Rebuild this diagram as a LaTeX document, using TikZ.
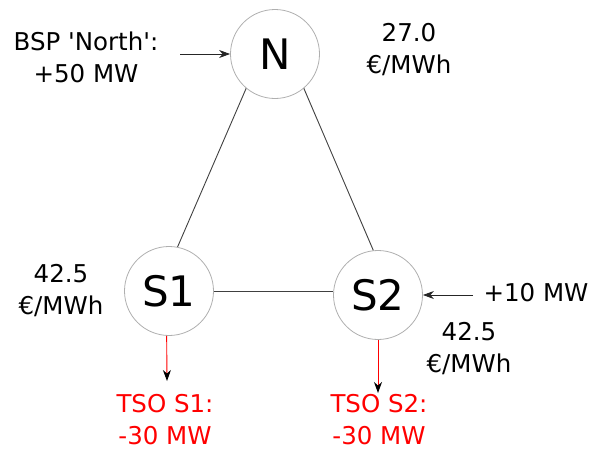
\documentclass[tikz,border=0pt]{standalone}
\usepackage{fontspec}
\setmainfont{DejaVu Sans}
\usepackage{xcolor}
\usetikzlibrary{arrows.meta, positioning, calc}
\definecolor{tsoRed}{RGB}{255, 0, 0}
\definecolor{busGray}{RGB}{175, 175, 175}

\begin{document}
\begin{tikzpicture}[x=1pt, y=-1pt,
    bus/.style={circle, draw=busGray, line width=0.8pt, minimum size=89pt, inner sep=0pt, font=\fontsize{42}{48}\selectfont},
    lbl/.style={align=center, inner sep=0pt, font=\fontsize{24.5}{32}\selectfont},
    grid line/.style={black!75, line width=0.9pt},
    inflow/.style={-{Stealth[length=11pt, width=8pt, inset=3.5pt]}, black!85, line width=0.9pt},
    outflow/.style={-{Stealth[length=11pt, width=8pt, inset=3.5pt, black]}, tsoRed, line width=0.9pt}]
    \useasboundingbox (0,0) rectangle (591,450);

    % Buses
    \node[bus] (N) at (275, 54) {N};
    \node[bus] (S1) at (169, 291) {S1};
    \node[bus] (S2) at (378, 295) {S2};

    % Lines between buses
    \draw[grid line] (N.230) -- (S1.79);
    \draw[grid line] (N.310) -- (S2.96);
    \draw[grid line] (S1.east) -- (S1.east -| S2.west);

    % Prices
    \node[lbl] (priceN) at (409, 50) {27.0\\€/MWh};
    \node[lbl] (priceS1) at (61, 291) {42.5\\€/MWh};
    \node[lbl] (priceS2) at (469, 349) {42.5\\€/MWh};

    % Injections
    \node[lbl] (bsp) at (86, 57) {BSP \textquotesingle North\textquotesingle:\\+50 MW};
    \coordinate (bspEnd) at (180, 54);
    \draw[inflow] (bspEnd) -- (N);

    \node[lbl] (injS2) at (536, 293) {+10 MW};
    \coordinate (injS2End) at (473, 295);
    \draw[inflow] (injS2End) -- (S2);

    % TSO demand
    \coordinate (tsoS1End) at (167, 381);
    \draw[outflow] (S1.267) -- (tsoS1End);
    \node[lbl, text=tsoRed] (tsoS1) at (165, 420) {TSO S1:\\-30 MW};

    \coordinate (tsoS2End) at (378, 393);
    \draw[outflow] (S2) -- (tsoS2End);
    \node[lbl, text=tsoRed] (tsoS2) at (379, 420) {TSO S2:\\-30 MW};
\end{tikzpicture}
\end{document}
